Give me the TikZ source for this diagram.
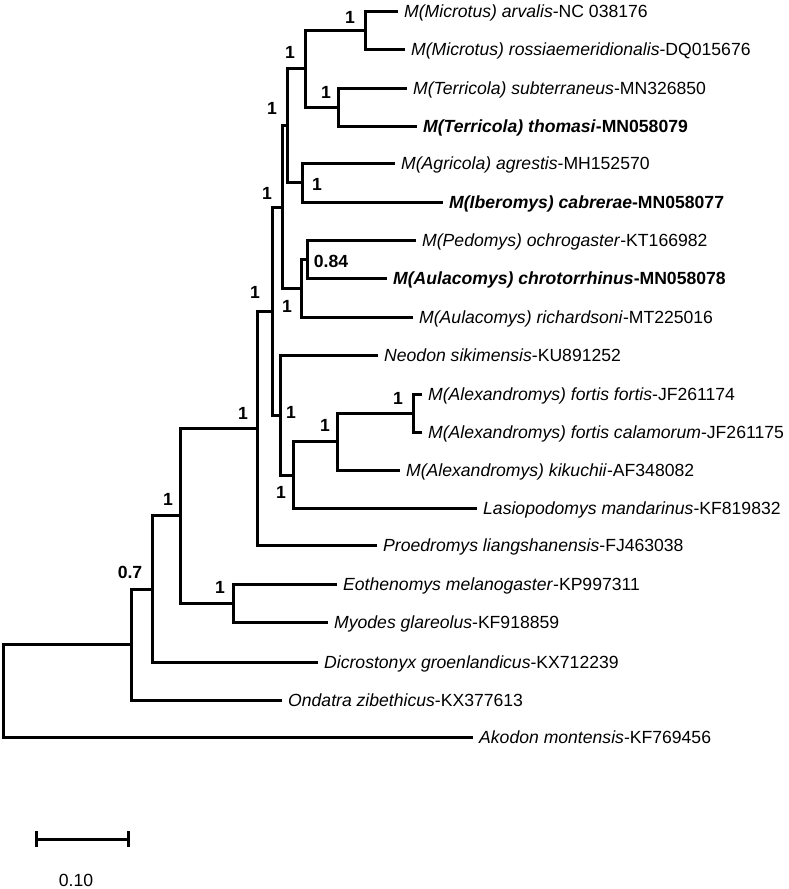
\documentclass[tikz,border=0pt]{standalone}
\usepackage{fontspec}
\setmainfont{Liberation Sans}
\usetikzlibrary{positioning,calc}

\begin{document}
\begin{tikzpicture}[x=1pt,y=-1pt,
  every node/.style={font=\fontsize{17.6}{20}\selectfont},
  leaf/.style={anchor=west,inner xsep=6pt,inner ysep=0pt,text height=12.6pt,text depth=0pt},
  boot/.style={font=\fontsize{17.6}{20}\selectfont\bfseries,inner sep=0pt},
  twig/.style={line width=3pt}]
\useasboundingbox (0,0) rectangle (788,889);

% tips
\node[leaf] (arv) at (398,11)  {\textit{M(Microtus) arvalis}-NC 038176};
\node[leaf] (ros) at (405,49)  {\textit{M(Microtus) rossiaemeridionalis}-DQ015676};
\node[leaf] (sub) at (407,88)  {\textit{M(Terricola) subterraneus}-MN326850};
\node[leaf] (tho) at (417,126) {\bfseries\textit{M(Terricola) thomasi}-MN058079};
\node[leaf] (agr) at (395,163) {\textit{M(Agricola) agrestis}-MH152570};
\node[leaf] (cab) at (443,202) {\bfseries\textit{M(Iberomys) cabrerae}-MN058077};
\node[leaf] (och) at (416,240) {\textit{M(Pedomys) ochrogaster}-KT166982};
\node[leaf] (chr) at (387,278) {\bfseries\textit{M(Aulacomys) chrotorrhinus}-MN058078};
\node[leaf] (ric) at (413,317) {\textit{M(Aulacomys) richardsoni}-MT225016};
\node[leaf] (neo) at (378,355) {\textit{Neodon sikimensis}-KU891252};
\node[leaf] (ffo) at (422,394) {\textit{M(Alexandromys) fortis fortis}-JF261174};
\node[leaf] (fca) at (422,432) {\textit{M(Alexandromys) fortis calamorum}-JF261175};
\node[leaf] (kik) at (400,470) {\textit{M(Alexandromys) kikuchii}-AF348082};
\node[leaf] (las) at (477,508) {\textit{Lasiopodomys mandarinus}-KF819832};
\node[leaf] (pro) at (377,545) {\textit{Proedromys liangshanensis}-FJ463038};
\node[leaf] (eot) at (337,584) {\textit{Eothenomys melanogaster}-KP997311};
\node[leaf] (myo) at (328,622) {\textit{Myodes glareolus}-KF918859};
\node[leaf] (dic) at (318,662) {\textit{Dicrostonyx groenlandicus}-KX712239};
\node[leaf] (ond) at (282,700) {\textit{Ondatra zibethicus}-KX377613};
\node[leaf] (ako) at (473,737) {\textit{Akodon montensis}-KF769456};

% inner nodes
\coordinate (nMic) at (365,30);
\coordinate (nTer) at (338,107);
\coordinate (nMT)  at (305,68.5);
\coordinate (nAgr) at (302,182.5);
\coordinate (nMTA) at (287,125.5);
\coordinate (nPed) at (307,259);
\coordinate (nAul) at (301,288);
\coordinate (nUp)  at (282,207);
\coordinate (nAlf) at (413,413);
\coordinate (nAlx) at (337,441.5);
\coordinate (nLas) at (293,475);
\coordinate (nNeo) at (280,415);
\coordinate (nArv) at (272,311);
\coordinate (nPro) at (257,428);
\coordinate (nEot) at (233,603);
\coordinate (nMyo) at (180,515.5);
\coordinate (nDic) at (152,589);
\coordinate (nOnd) at (131,644.5);
\coordinate (root) at (3,690.5);

% branches
\foreach \p/\a/\b in {nMic/arv.west/ros.west, nTer/sub.west/tho.west,
                      nMT/nMic/nTer, nAgr/agr.west/cab.west, nMTA/nMT/nAgr,
                      nPed/och.west/chr.west, nAul/nPed/ric.west, nUp/nMTA/nAul,
                      nAlf/ffo.west/fca.west, nAlx/nAlf/kik.west, nLas/nAlx/las.west,
                      nNeo/neo.west/nLas, nArv/nUp/nNeo, nPro/nArv/pro.west,
                      nEot/eot.west/myo.west, nMyo/nPro/nEot, nDic/nMyo/dic.west,
                      nOnd/nDic/ond.west, root/nOnd/ako.west}
  \draw[twig] (\a) -| (\p) |- (\b);

% support values
\node[boot] (bMic) at (350,17)  {1};
\node[boot] (bMT)  at (290,52)  {1};
\node[boot] (bTer) at (326,92)  {1};
\node[boot] (bMTA) at (272,108) {1};
\node[boot] (bAgr) at (317,184) {1};
\node[boot] (bUp)  at (267,193) {1};
\node[boot] (bPed) at (331,261) {0.84};
\node[boot] (bAul) at (287,306) {1};
\node[boot] (bArv) at (255,292) {1};
\node[boot] (bNeo) at (291,412) {1};
\node[boot] (bAlx) at (325,425) {1};
\node[boot] (bAlf) at (398,398) {1};
\node[boot] (bLas) at (281,492) {1};
\node[boot] (bPro) at (243,413) {1};
\node[boot] (bMyo) at (168,499) {1};
\node[boot] (bEot) at (220,587) {1};
\node[boot] (bDic) at (130,572) {0.7};

% scale bar
\coordinate (sbL) at (36,839);
\coordinate (sbR) at (128,839);
\draw[twig] (sbL) -- (sbR);
\draw[twig] ($(sbL)+(0,-8)$) -- ($(sbL)+(0,8)$);
\draw[twig] ($(sbR)+(0,-8)$) -- ($(sbR)+(0,8)$);
\node (sbT) at (76,880) {0.10};
\end{tikzpicture}
\end{document}
